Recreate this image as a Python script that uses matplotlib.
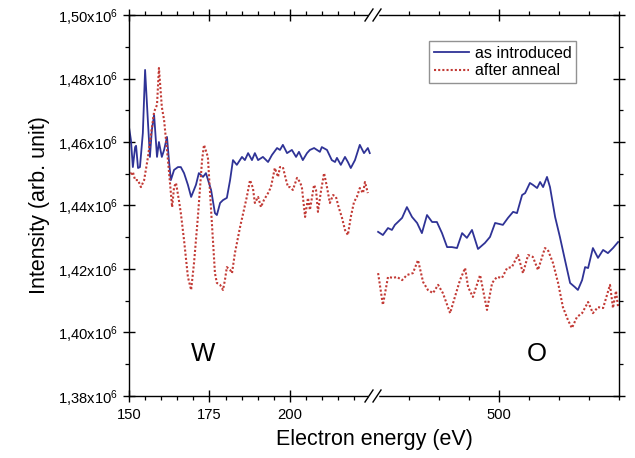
import matplotlib
matplotlib.use("Agg")
import matplotlib.pyplot as plt
import matplotlib.ticker as mtick
from matplotlib.lines import Line2D

plt.rcParams["font.family"] = ["Liberation Sans", "DejaVu Sans"]
plt.rcParams["mathtext.fontset"] = "custom"
plt.rcParams["mathtext.rm"] = "Liberation Sans"
plt.rcParams["mathtext.default"] = "regular"

# --- data (intensity in units of 10^6) ---
# W region, as introduced
blue_w_e = [150.0, 150.6, 151.2, 151.9, 152.2, 152.8, 153.4, 154.3, 155.0, 155.9,
            156.5, 157.1, 157.8, 158.7, 159.3, 160.2, 160.9, 161.8, 162.4, 163.0,
            164.0, 165.2, 166.1, 167.1, 168.3, 169.3, 170.8, 171.7, 173.0, 173.9,
            175.5, 176.7, 177.3, 178.3, 179.2, 180.4, 181.4, 182.3, 183.5, 185.1,
            186.0, 187.0, 188.2, 189.1, 190.1, 191.6, 193.2, 194.4, 196.0, 196.9,
            197.8, 199.1, 200.6, 201.9, 202.8, 204.0, 205.3, 206.2, 207.5, 209.3,
            209.9, 211.5, 213.0, 214.0, 214.6, 215.8, 217.1, 218.0, 218.9, 220.2,
            221.7, 223.0, 224.2, 224.8]
blue_w_i = [1.4647, 1.4606, 1.4521, 1.4584, 1.4588, 1.4518, 1.4521, 1.4628, 1.4827, 1.4660,
            1.4553, 1.4638, 1.4685, 1.4553, 1.4600, 1.4553, 1.4575, 1.4616, 1.4543, 1.4480,
            1.4512, 1.4521, 1.4521, 1.4502, 1.4465, 1.4427, 1.4465, 1.4502, 1.4490, 1.4502,
            1.4449, 1.4376, 1.4370, 1.4408, 1.4417, 1.4424, 1.4480, 1.4543, 1.4528, 1.4553,
            1.4543, 1.4565, 1.4543, 1.4565, 1.4543, 1.4553, 1.4537, 1.4559, 1.4581, 1.4575,
            1.4591, 1.4565, 1.4575, 1.4553, 1.4569, 1.4543, 1.4565, 1.4575, 1.4581, 1.4569,
            1.4584, 1.4575, 1.4543, 1.4537, 1.4550, 1.4528, 1.4553, 1.4537, 1.4518, 1.4543,
            1.4591, 1.4565, 1.4581, 1.4565]

# W region, after anneal
red_w_e = [150.0, 150.6, 151.2, 151.9, 152.8, 153.7, 154.7, 155.9, 156.8, 157.8,
           158.7, 159.3, 160.2, 160.9, 162.1, 163.4, 164.0, 164.6, 165.5, 166.1,
           167.1, 168.3, 169.3, 170.2, 171.4, 172.7, 173.3, 174.5, 175.5, 176.7,
           177.3, 178.3, 179.2, 179.8, 180.4, 181.4, 182.0, 182.9, 184.5, 185.7,
           186.6, 187.6, 188.5, 189.1, 190.1, 191.0, 191.9, 193.2, 194.1, 195.3,
           196.3, 196.9, 197.8, 198.8, 199.4, 200.0, 200.9, 202.2, 203.1, 203.7,
           204.7, 205.6, 206.2, 207.5, 208.1, 208.7, 209.6, 210.6, 211.5, 212.4,
           213.4, 214.3, 215.2, 216.1, 217.1, 218.0, 218.9, 219.9, 220.8, 221.7,
           222.7, 223.3, 224.2]
red_w_i = [1.4506, 1.4496, 1.4506, 1.4480, 1.4480, 1.4458, 1.4480, 1.4553, 1.4622, 1.4695,
           1.4717, 1.4833, 1.4710, 1.4669, 1.4543, 1.4395, 1.4458, 1.4471, 1.4417, 1.4376,
           1.4291, 1.4175, 1.4134, 1.4219, 1.4364, 1.4543, 1.4591, 1.4553, 1.4386, 1.4187,
           1.4156, 1.4150, 1.4134, 1.4165, 1.4206, 1.4197, 1.4187, 1.4250, 1.4332, 1.4386,
           1.4427, 1.4480, 1.4455, 1.4408, 1.4427, 1.4395, 1.4417, 1.4439, 1.4458, 1.4518,
           1.4490, 1.4521, 1.4521, 1.4480, 1.4458, 1.4458, 1.4449, 1.4487, 1.4474, 1.4458,
           1.4364, 1.4424, 1.4386, 1.4465, 1.4449, 1.4380, 1.4443, 1.4502, 1.4458, 1.4408,
           1.4433, 1.4427, 1.4392, 1.4364, 1.4323, 1.4307, 1.4364, 1.4411, 1.4427, 1.4455,
           1.4439, 1.4474, 1.4439]

# O region, as introduced
blue_o_e = [459.7, 461.3, 463.0, 464.3, 465.3, 466.3, 467.7, 469.3, 471.0, 472.7,
            474.3, 476.0, 477.7, 479.3, 481.0, 482.7, 484.3, 486.0, 487.7, 489.3,
            491.0, 493.0, 495.3, 497.0, 498.7, 501.3, 503.0, 504.7, 506.0, 507.7,
            508.7, 510.3, 511.3, 512.7, 513.7, 514.7, 516.0, 517.0, 518.7, 520.3,
            522.0, 523.7, 525.3, 526.3, 527.7, 528.7, 529.7, 531.3, 533.0, 534.7,
            536.3, 538.0, 539.7]
blue_o_i = [1.4317, 1.4307, 1.4329, 1.4323, 1.4339, 1.4348, 1.4361, 1.4395, 1.4364, 1.4345,
            1.4313, 1.4370, 1.4348, 1.4348, 1.4313, 1.4269, 1.4269, 1.4266, 1.4313, 1.4298,
            1.4323, 1.4263, 1.4282, 1.4301, 1.4345, 1.4339, 1.4361, 1.4380, 1.4376, 1.4433,
            1.4439, 1.4471, 1.4465, 1.4455, 1.4474, 1.4458, 1.4490, 1.4458, 1.4364, 1.4301,
            1.4228, 1.4156, 1.4143, 1.4134, 1.4165, 1.4206, 1.4203, 1.4266, 1.4235, 1.4260,
            1.4250, 1.4266, 1.4285]

# O region, after anneal
red_o_e = [459.7, 461.3, 463.0, 464.7, 466.0, 467.7, 469.3, 471.3, 473.0, 474.7,
           476.3, 478.0, 479.7, 481.3, 483.7, 485.3, 487.0, 488.7, 489.7, 491.3,
           493.7, 496.0, 497.7, 499.3, 501.0, 502.7, 504.3, 506.3, 508.0, 509.7,
           511.3, 513.0, 515.3, 516.3, 518.0, 519.7, 521.3, 523.0, 524.3, 526.0,
           527.7, 529.7, 531.3, 533.0, 534.7, 537.0, 538.0, 539.0, 539.7]
red_o_i = [1.4187, 1.4087, 1.4175, 1.4172, 1.4175, 1.4165, 1.4181, 1.4187, 1.4228, 1.4159,
           1.4134, 1.4124, 1.4150, 1.4124, 1.4061, 1.4112, 1.4165, 1.4203, 1.4143, 1.4112,
           1.4181, 1.4071, 1.4156, 1.4175, 1.4172, 1.4203, 1.4206, 1.4244, 1.4187, 1.4244,
           1.4238, 1.4197, 1.4266, 1.4260, 1.4219, 1.4156, 1.4080, 1.4039, 1.4014, 1.4049,
           1.4061, 1.4096, 1.4061, 1.4080, 1.4077, 1.4150, 1.4077, 1.4131, 1.4080]

BLUE = "#2f3396"
RED = "#c23a35"
dots = (0, (1, 1.0))

W, H = 635, 458
fig = plt.figure(figsize=(W / 100, H / 100), dpi=100)
x0, xb, x1 = 129, 373, 619
ytop, ybot = 15, 396
ax1 = fig.add_axes([x0 / W, 1 - ybot / H, (xb - x0) / W, (ybot - ytop) / H])
ax2 = fig.add_axes([xb / W, 1 - ybot / H, (x1 - xb) / W, (ybot - ytop) / H], sharey=ax1)

ax1.plot(blue_w_e, blue_w_i, color=BLUE, lw=1.3, label="as introduced")
ax1.plot(red_w_e, red_w_i, color=RED, lw=1.5, ls=dots, label="after anneal")
ax2.plot(blue_o_e, blue_o_i, color=BLUE, lw=1.3, label="as introduced")
ax2.plot(red_o_e, red_o_i, color=RED, lw=1.5, ls=dots, label="after anneal")

ax1.set_xlim(150, 225.8)
ax2.set_xlim(458, 540)
ax1.set_ylim(1.38, 1.50)

ax1.xaxis.set_major_locator(mtick.FixedLocator([150, 175, 200]))
ax1.xaxis.set_minor_locator(mtick.FixedLocator(range(155, 225, 5)))
ax2.xaxis.set_major_locator(mtick.FixedLocator([500]))
ax2.xaxis.set_minor_locator(mtick.FixedLocator(range(470, 541, 10)))
ax1.yaxis.set_major_locator(mtick.MultipleLocator(0.02))
ax1.yaxis.set_minor_locator(mtick.MultipleLocator(0.01))


def ylab(v, pos):
    return f"{v:.2f}".replace(".", ",") + r"x10$^{6}$"


ax1.yaxis.set_major_formatter(mtick.FuncFormatter(ylab))

for ax in (ax1, ax2):
    for s in ax.spines.values():
        s.set_linewidth(1.0)
    ax.tick_params(which="major", direction="inout", length=9, width=1.0,
                   labelsize=10.6, pad=3.5, top=True)
    ax.tick_params(which="minor", direction="out", length=2.6, width=0.9, top=True)
    ax.tick_params(axis="x", which="major", pad=4)

ax1.spines["right"].set_visible(False)
ax2.spines["left"].set_visible(False)
ax1.tick_params(axis="y", which="both", right=False)
ax2.tick_params(axis="y", which="both", left=False, right=True, labelleft=False,
                labelright=False)

ax1.set_ylabel("Intensity (arb. unit)", fontsize=15.5, labelpad=6)
fig.text((x0 + x1) / 2 / W, 1 - 440 / H, "Electron energy (eV)", fontsize=15.5,
         ha="center", va="center")

ax1.text(173, 1.3932, "W", fontsize=18.5, ha="center", va="center")
ax2.text(512.7, 1.3932, "O", fontsize=18.5, ha="center", va="center")

leg = ax2.legend(loc="upper left", bbox_to_anchor=(0.227, 0.932), borderaxespad=0,
                 fontsize=11.6, frameon=True, fancybox=False, handlelength=2.2,
                 handletextpad=0.35, borderpad=0.3, labelspacing=0.15)
leg.get_frame().set_edgecolor("#777777")
leg.get_frame().set_linewidth(1.0)

# break marks "//" on top and bottom axes, with a gap in the spine between them
for yb in (ytop, ybot):
    fig.add_artist(Line2D([(xb - 3) / W, (xb + 4) / W], [1 - yb / H, 1 - yb / H],
                          transform=fig.transFigure, color="white", lw=2.5))
    for dx in (-4, 4):
        fig.add_artist(Line2D([(xb + dx - 4) / W, (xb + dx + 4) / W],
                              [1 - (yb + 6) / H, 1 - (yb - 6) / H],
                              transform=fig.transFigure, color="black", lw=1.0))

fig.savefig("out.png", dpi=100)
